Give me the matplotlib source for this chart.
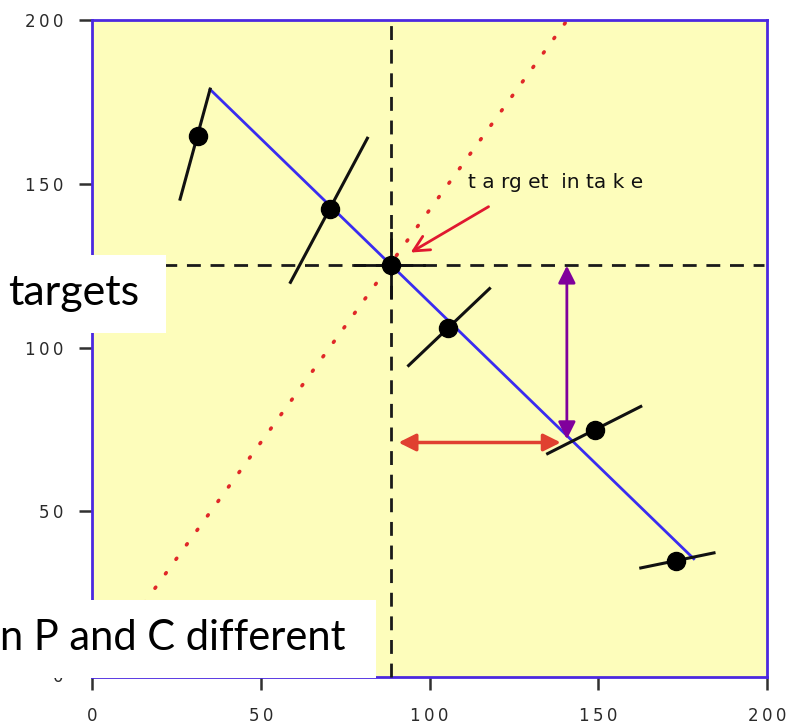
import matplotlib
matplotlib.use("Agg")
import matplotlib.pyplot as plt
from matplotlib.patches import Rectangle

# Observed intakes (x = C intake, y = P intake)
points_x = [31.5, 70.6, 105.6, 149.0, 173.0]
points_y = [164.5, 142.2, 106.1, 74.9, 34.9]

# Rails through each observed intake: (x0, y0, x1, y1)
rails = [
    (26.1, 145.3, 35.0, 178.9),
    (58.8, 119.9, 81.6, 163.9),
    (93.8, 94.5, 117.8, 118.0),
    (135.0, 67.6, 162.6, 82.0),
    (162.6, 32.7, 184.3, 37.3),
]

# Target intake
target_x = 88.5
target_y = 125.3

# Intake array line y = a - x
array_x = [35.0, 178.3]
array_intercept = 213.8

# Target ratio line y = k * x
ratio_k = 1.42

# Distance arrows
arrow_x_span = (90.8, 138.9, 71.0)     # x0, x1, y
arrow_y_span = (140.7, 125.0, 72.0)    # x, y0, y1

tick_vals = [0, 50, 100, 150, 200]

fig = plt.figure(figsize=(7.9, 7.27), dpi=100)
ax = fig.add_axes([92 / 790, 1 - 677 / 727, 675 / 790, 657 / 727])
ax.set_xlim(0, 200)
ax.set_ylim(-0.6, 200)
ax.set_facecolor("#fdfdbb")
for s in ax.spines.values():
    s.set_color("#4b28e0")
    s.set_linewidth(2)

def spaced(v):
    return "\u2009".join(str(v))

ax.set_xticks(tick_vals)
ax.set_yticks(tick_vals)
ax.set_xticklabels([spaced(v) for v in tick_vals])
ax.set_yticklabels([spaced(v) for v in tick_vals])
ax.tick_params(axis="both", direction="out", length=9.5, width=1.8,
               color="#303030", labelsize=12, labelcolor="#2a2a2a")
ax.tick_params(axis="x", pad=12)
ax.tick_params(axis="y", pad=11)

# ratio line
rx = [0, 200 / ratio_k]
ax.plot(rx, [ratio_k * v for v in rx], color="#e02828", lw=2.6,
        linestyle=(0, (0.35, 4.6)), dash_capstyle="round", zorder=2)

# crosshair dashed lines through target
ax.plot([target_x, target_x], [-0.6, 201], color="#1a1a1a", lw=2,
        linestyle=(0, (5, 3.5)), zorder=3, clip_on=False)
ax.plot([0, 199], [target_y, target_y], color="#1a1a1a", lw=2,
        linestyle=(0, (5, 3.5)), zorder=3)

# short solid cross at target
ax.plot([78, 98.5], [target_y, target_y], color="#111111", lw=2, zorder=4)
ax.plot([target_x, target_x], [115.5, 135], color="#111111", lw=2, zorder=4)

# intake array
ax.plot(array_x, [array_intercept - v for v in array_x], color="#3a2cf0",
        lw=2, zorder=4)

# rails
for x0, y0, x1, y1 in rails:
    ax.plot([x0, x1], [y0, y1], color="#111111", lw=2.2, zorder=5)

# observed intakes and target
ax.plot(points_x, points_y, "o", color="black", ms=13, zorder=6)
ax.plot([target_x], [target_y], "o", color="black", ms=13, zorder=6)

# distance arrows
x0, x1, ya = arrow_x_span
ax.annotate("", xy=(x0, ya), xytext=(x1, ya),
            arrowprops=dict(arrowstyle="<|-|>", color="#e04030", lw=2.5,
                            mutation_scale=26, shrinkA=0, shrinkB=0),
            zorder=7)
xa, y0, y1 = arrow_y_span
ax.annotate("", xy=(xa, y0), xytext=(xa, y1),
            arrowprops=dict(arrowstyle="<|-|>", color="#80009c", lw=2,
                            mutation_scale=26, shrinkA=0, shrinkB=0),
            zorder=7)

# target label with pointer
ax.annotate("", xy=(94.4, 129.0), xytext=(117.5, 143.0),
            arrowprops=dict(arrowstyle="->", color="#e01830", lw=2,
                            mutation_scale=28, shrinkA=0, shrinkB=0),
            zorder=7)
ax.text(111.5, 150.5, "t a rg et  in ta k e", fontsize=14.5, color="#111111",
        ha="left", va="center", zorder=7)

# white caption boxes
fig.patches.append(Rectangle((0, 1 - 333 / 727), 166 / 790, 78 / 727,
                             transform=fig.transFigure, facecolor="white",
                             edgecolor="none", zorder=10))
fig.text(8 / 790, 1 - 293 / 727, "targets", fontsize=31, family="Lato",
         ha="left", va="center", zorder=11)
fig.patches.append(Rectangle((0, 1 - 678 / 727), 376 / 790, 78 / 727,
                             transform=fig.transFigure, facecolor="white",
                             edgecolor="none", zorder=10))
fig.text(0 / 790, 1 - 638 / 727, "n P and C different", fontsize=30,
         family="Lato", ha="left", va="center", zorder=11)

fig.savefig("out.png", dpi=100)
